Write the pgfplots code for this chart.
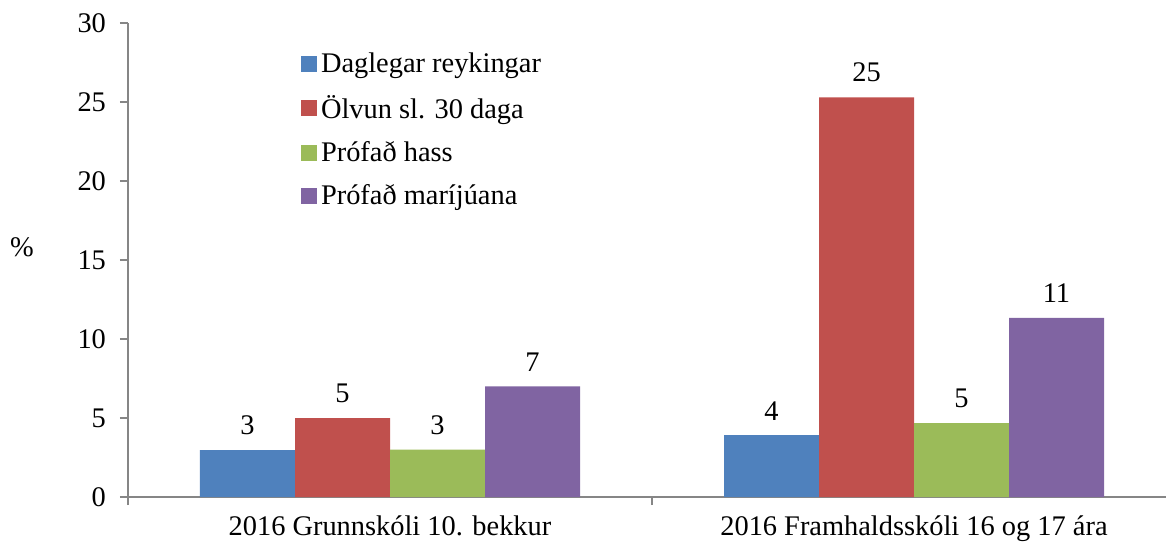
\documentclass[border=0pt]{standalone}
\usepackage{fontspec}
\setmainfont{Liberation Serif}
\usepackage{pgfplots}
\pgfplotsset{compat=1.18}
\usetikzlibrary{calc}
\definecolor{cblue}{HTML}{4F81BD}
\definecolor{cred}{HTML}{C0504D}
\definecolor{cgreen}{HTML}{9BBB59}
\definecolor{cpurple}{HTML}{8064A2}
\definecolor{axgray}{HTML}{868686}

\begin{document}
\begin{tikzpicture}[font=\fontsize{14.2pt}{17pt}\selectfont]
\begin{axis}[
    scale only axis,
    width=524pt, height=237pt,
    xmin=-0.5, xmax=1.5, ymin=0, ymax=30,
    enlargelimits=false,
    ybar=0pt, bar width=47.5pt,
    legend image code/.code={\fill[#1] (0pt,-4pt) rectangle (8pt,4pt);},
    axis x line*=bottom, axis y line*=left,
    axis line style={draw=axgray, line width=0.8pt, -},
    tick align=outside, major tick length=4pt,
    tick style={draw=axgray, line width=0.8pt},
    ytick={0,5,...,30},
    yticklabel style={xshift=-3.5pt},
    xtick={-0.5,0.5,1.5},
    xticklabels={2016 Grunnskóli 10. bekkur, 2016 Framhaldsskóli 16 og 17 ára},
    x tick label as interval,
    xticklabel style={yshift=-2pt},
    /pgf/number format/assume math mode=true,
    ylabel={\%},
    ylabel style={rotate=-90, at={(rel axis cs:0,0.527)}, anchor=center, xshift=-53pt},
    nodes near coords={\pgfmathprintnumber[fixed,precision=0]{\pgfplotspointmeta}},
    nodes near coords style={anchor=south, yshift=4pt, text=black},
    legend style={at={(rel axis cs:0.159,0.955)}, anchor=north west, draw=none, fill=none,
        row sep=6pt, font=\fontsize{14.2pt}{17pt}\selectfont},
    legend cell align=left,
]
\addplot[fill=cblue, draw=none] coordinates {(0,2.97) (1,3.92)};
\addplot[fill=cred, draw=none] coordinates {(0,5.0) (1,25.3)};
\addplot[fill=cgreen, draw=none] coordinates {(0,3.0) (1,4.68)};
\addplot[fill=cpurple, draw=none] coordinates {(0,7.0) (1,11.33)};
\legend{Daglegar reykingar, Ölvun sl. 30 daga, Prófað hass, Prófað maríjúana}
\coordinate (bl) at (rel axis cs:0,0);
\coordinate (tr) at (rel axis cs:1,1);
\end{axis}
\pgfresetboundingbox
\path[use as bounding box] ($(bl)+(-64pt,-24.5pt)$) rectangle ($(tr)+(-5pt,11.5pt)$);
\end{tikzpicture}
\end{document}
